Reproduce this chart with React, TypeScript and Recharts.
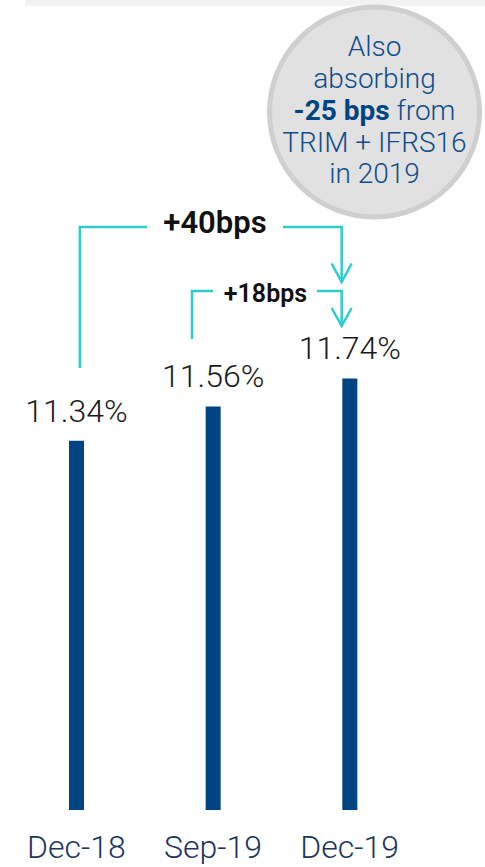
import React from 'react';
import { BarChart, Bar, XAxis, YAxis, LabelList, Customized } from 'recharts';

const categories = ['Dec-18', 'Sep-19', 'Dec-19'];
const ratios = [11.34, 11.56, 11.74];
const changeLabels = ['+40bps', '+18bps'];

const data = categories.map((period, i) => ({ period, ratio: ratios[i] }));

const WIDTH = 485;
const HEIGHT = 867;
const MARGIN = { top: 20, right: 67, left: 8, bottom: 0 };
const AXIS_HEIGHT = 57;
const Y_DOMAIN: [number, number] = [8.97, 14.04];

const NAVY = '#004481';
const AQUA = '#2dcccd';
const FONT = 'Roboto, "Open Sans", sans-serif';

// same geometry as the chart, used to anchor the brackets
const plotW = WIDTH - MARGIN.left - MARGIN.right;
const band = plotW / categories.length;
const xc = (i: number) => MARGIN.left + (i + 0.5) * band;

const Annotations = () => {
  const L1 = xc(0) + 3.5;
  const L2 = xc(1) - 21;
  const R = xc(2) - 8;
  const line = { fill: 'none', stroke: AQUA, strokeWidth: 2.5 };
  return (
    <g>
      <rect x={25} y={0} width={460} height={5.7} fill="#f2f2f2" />

      {/* note bubble */}
      <circle cx={374.5} cy={112} r={105} fill="#e1e1e1" stroke="#cfcfcf" strokeWidth={5} />
      <text x={374.5} textAnchor="middle" fontFamily={FONT} fontWeight={300} fontSize={28} fill="#0f4d8c">
        <tspan x={374.5} y={56}>Also</tspan>
        <tspan x={374.5} y={88}>absorbing</tspan>
        <tspan x={374.5} y={119.5}>
          <tspan fontWeight={700} fill={NAVY}>-25 bps</tspan> from
        </tspan>
        <tspan x={374.5} y={151.5}>TRIM + IFRS16</tspan>
        <tspan x={374.5} y={183}>in 2019</tspan>
      </text>

      {/* +40bps bracket */}
      <path d={`M${L1},368 V227 H147`} {...line} />
      <path d={`M283,227 H${R} V282`} {...line} />
      <path d={`M${R - 10},263.5 L${R},282 L${R + 10},263.5`} {...line} />
      <text x={215} y={233} textAnchor="middle" fontFamily={FONT} fontWeight={600} fontSize={31} fill="#111">
        {changeLabels[0]}
      </text>

      {/* +18bps bracket */}
      <path d={`M${L2},339 V291 H213`} {...line} />
      <path d={`M317,291 H${R} V326`} {...line} />
      <path d={`M${R - 10},308 L${R},326 L${R + 10},308`} {...line} />
      <text x={265.5} y={301.5} textAnchor="middle" fontFamily={FONT} fontWeight={600} fontSize={25} fill="#111">
        {changeLabels[1]}
      </text>
    </g>
  );
};

const App = () => {
  return (
    <div style={{ position: 'absolute', left: 0, top: 0, width: WIDTH, height: HEIGHT, background: '#fff' }}>
      <BarChart width={WIDTH} height={HEIGHT} data={data} margin={MARGIN}>
        <XAxis
          dataKey="period"
          height={AXIS_HEIGHT}
          axisLine={false}
          tickLine={false}
          tickMargin={19}
          interval={0}
          tick={{ fill: '#1c355e', fontSize: 32, fontWeight: 300, fontFamily: FONT }}
        />
        <YAxis hide type="number" domain={Y_DOMAIN} />
        <Bar dataKey="ratio" fill={NAVY} barSize={15} isAnimationActive={false}>
          <LabelList
            dataKey="ratio"
            position="top"
            offset={19}
            formatter={(v: number) => `${v.toFixed(2)}%`}
            style={{ fill: '#1a1a1a', fontSize: 32, fontWeight: 300, fontFamily: FONT }}
          />
        </Bar>
        <Customized component={Annotations} />
      </BarChart>
    </div>
  );
};

export default App;
